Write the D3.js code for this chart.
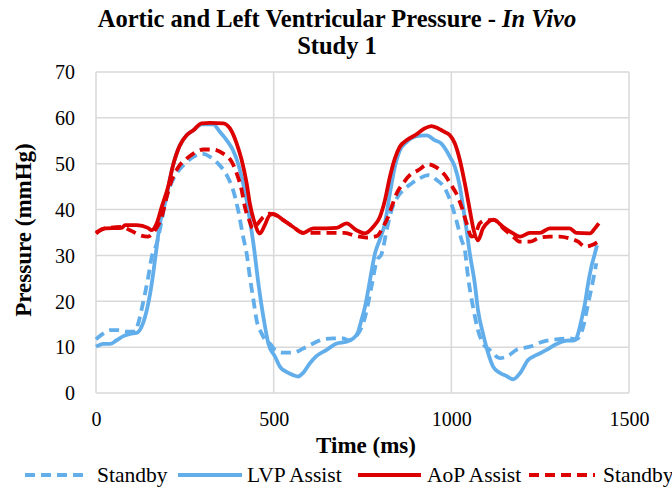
<!DOCTYPE html>
<html>
<head>
<meta charset="utf-8">
<script src="https://cdn.jsdelivr.net/npm/d3@7"></script>
<style>
  body { margin: 0; background: #fff; }
  text { font-family: "Liberation Serif", "Times New Roman", serif; fill: #000; }
</style>
</head>
<body>
<script>
var width = 672, height = 493;
var margin = {left: 96, right: 43, top: 72, bottom: 100};

// time (ms) / pressure (mmHg)
var aopAssistT = [0, 25, 72, 82, 115, 146, 157, 171, 185, 203, 217, 236, 255, 274, 297, 321, 358, 377, 396, 410, 424, 433, 447, 461, 475, 489, 499, 527, 555, 583, 611, 649, 677, 705, 733, 757, 780, 799, 813, 827, 841, 855, 874, 902, 925, 944, 963, 982, 996, 1010, 1024, 1038, 1052, 1063, 1075, 1089, 1104, 1118, 1146, 1174, 1193, 1221, 1249, 1277, 1305, 1333, 1352, 1390, 1404, 1415];
var aopAssistP = [34.8, 35.9, 36, 36.6, 36.6, 36, 35.5, 37, 40.6, 45, 49.7, 54, 56.2, 57.3, 58.8, 58.9, 58.8, 57.7, 54.4, 50.8, 45.7, 41.3, 37, 34.8, 36.6, 38.8, 39, 37.7, 36.2, 34.9, 35.9, 35.9, 36, 37, 35.5, 34.8, 36.2, 38.4, 42, 47.1, 51.1, 53.7, 55.1, 56.4, 57.7, 58.2, 57.7, 56.9, 56.2, 54.4, 50.8, 45.7, 39.9, 35.5, 33.3, 35.9, 37.3, 37.8, 36.2, 34.8, 34.1, 34.9, 34.9, 35.9, 35.9, 35.9, 34.9, 34.8, 35.9, 37];

var aopStandbyT = [0, 25, 72, 96, 124, 146, 166, 185, 199, 213, 232, 255, 274, 302, 330, 358, 382, 396, 410, 419, 431, 441, 452, 471, 489, 499, 527, 555, 583, 611, 650, 700, 733, 761, 790, 808, 822, 832, 846, 864, 883, 907, 935, 958, 982, 1000, 1014, 1029, 1043, 1057, 1066, 1080, 1099, 1122, 1146, 1174, 1193, 1221, 1249, 1277, 1305, 1333, 1357, 1376, 1394, 1413];
var aopStandbyP = [35, 35.9, 36.2, 35.5, 34.4, 34.1, 35.5, 38.4, 42.8, 46.4, 49.3, 51.1, 52.2, 53.1, 53.1, 52.2, 50.4, 47.9, 44.2, 40.6, 37.7, 35.9, 36.6, 38.4, 39.1, 39, 37.7, 36.2, 34.9, 34.9, 34.9, 34.9, 34.2, 33.9, 34.2, 36.2, 38.4, 40.6, 43.5, 45.7, 47.5, 48.6, 49.9, 49.2, 47.5, 45.3, 43.5, 40.6, 37, 34.1, 34.4, 37, 37.7, 37.7, 35.9, 34.1, 33, 33, 33.9, 34.1, 34.1, 33.7, 33, 31.9, 32.2, 33];

var lvpAssistT = [0, 21, 39, 58, 77, 96, 114, 128, 138, 147, 157, 166, 180, 194, 217, 236, 255, 274, 297, 330, 349, 368, 386, 400, 414, 424, 433, 443, 457, 471, 485, 504, 518, 536, 555, 569, 583, 602, 621, 649, 677, 705, 724, 738, 747, 757, 766, 776, 785, 799, 813, 827, 841, 855, 874, 902, 930, 954, 972, 986, 996, 1010, 1024, 1033, 1043, 1052, 1066, 1075, 1089, 1104, 1118, 1136, 1155, 1174, 1193, 1216, 1240, 1268, 1296, 1324, 1347, 1357, 1366, 1376, 1385, 1394, 1404, 1410];
var lvpAssistP = [10.1, 10.7, 10.7, 11.5, 12.4, 12.9, 13.1, 14.4, 16.6, 19.5, 23.9, 29, 37, 41.3, 49.7, 54, 56.2, 57.3, 58.6, 58.6, 56.9, 55.1, 52.9, 50, 45.7, 42, 37.7, 32.6, 23.9, 16.6, 10.8, 7.9, 5.7, 4.6, 3.9, 3.6, 4.4, 6.5, 8.1, 9.4, 10.8, 11.2, 11.9, 13.4, 15.9, 18.8, 22.4, 26.8, 30.4, 33.5, 37, 43.5, 49.3, 52.9, 54.7, 56, 56.2, 55.1, 54.4, 52.9, 51.5, 49.3, 45, 40.6, 35.5, 30.4, 23.9, 18.1, 13, 8.6, 5.7, 4.4, 3.7, 3, 4.3, 7.2, 8.3, 9.4, 10.7, 11.4, 11.5, 13, 15.9, 19.5, 23.9, 27.5, 30.4, 32.2];

var lvpStandbyT = [0, 21, 39, 63, 86, 110, 119, 128, 138, 147, 157, 171, 185, 194, 208, 227, 250, 274, 297, 321, 344, 368, 386, 400, 414, 424, 433, 443, 452, 466, 480, 489, 504, 527, 555, 583, 611, 639, 667, 696, 710, 738, 757, 776, 790, 804, 818, 832, 846, 864, 888, 911, 935, 958, 982, 1000, 1014, 1029, 1038, 1047, 1061, 1075, 1089, 1108, 1136, 1160, 1183, 1221, 1258, 1296, 1333, 1352, 1371, 1385, 1399, 1408];
var lvpStandbyP = [11.7, 13, 13.7, 13.7, 13.4, 13.4, 15.2, 18.1, 21.7, 25.3, 29.7, 32.6, 37.7, 41.3, 45, 47.9, 50, 51.5, 52.2, 51.5, 50, 47.5, 44.2, 39.9, 34.1, 30.4, 25.3, 20.3, 15.9, 13, 11.2, 10.8, 9.4, 8.8, 8.8, 9.7, 10.8, 11.7, 11.9, 11.9, 11.5, 13, 16.5, 23.5, 28.8, 30.4, 35.5, 39.9, 42.4, 44.2, 45.7, 46.8, 47.5, 46.5, 44.6, 41.3, 37.7, 33.3, 31.2, 25.3, 18.8, 13.7, 10.8, 9.4, 7.6, 8.1, 9.4, 10.1, 11.2, 11.7, 11.9, 11.7, 14.4, 19.5, 24.6, 28.3];

var xTicks = [0, 500, 1000, 1500];
var yTicks = [0, 10, 20, 30, 40, 50, 60, 70];

var blue = "#62aeeb", red = "#dc0000";

var svg = d3.select("body").append("svg")
    .attr("width", width)
    .attr("height", height);

var x = d3.scaleLinear().domain([0, 1500]).range([margin.left, width - margin.right]);
var y = d3.scaleLinear().domain([0, 70]).range([393, margin.top]);

// grid
var grid = svg.append("g");
grid.selectAll(".gy").data(yTicks).enter().append("line")
    .attr("x1", x(0)).attr("x2", x(1500))
    .attr("y1", function(d) { return y(d); }).attr("y2", function(d) { return y(d); })
    .attr("stroke", "#d9d9d9").attr("stroke-width", 1.5);
grid.selectAll(".gx").data(xTicks).enter().append("line")
    .attr("x1", function(d) { return x(d); }).attr("x2", function(d) { return x(d); })
    .attr("y1", y(0)).attr("y2", y(70))
    .attr("stroke", "#d9d9d9").attr("stroke-width", 1.5);

// axes (labels only)
var xAxis = svg.append("g")
    .attr("transform", "translate(0," + (y(0) + 19) + ")")
    .call(d3.axisBottom(x).tickValues(xTicks).tickSize(0).tickFormat(d3.format("d")));
var yAxis = svg.append("g")
    .attr("transform", "translate(" + (x(0) - 21) + ",0)")
    .call(d3.axisLeft(y).tickValues(yTicks).tickSize(0));
[xAxis, yAxis].forEach(function(a) {
    a.select(".domain").remove();
    a.selectAll("text").style("font-family", "Liberation Serif").style("font-size", "20px").attr("fill", "#000");
});
xAxis.selectAll("text").attr("dy", "0.71em").attr("y", 0);
yAxis.selectAll("text").attr("x", 0).attr("dy", "0.34em");

function series(ts, ps) {
    return ts.map(function(t, i) { return [t, ps[i]]; });
}
var line = d3.line()
    .x(function(d) { return x(d[0]); })
    .y(function(d) { return y(d[1]); })
    .curve(d3.curveMonotoneX);

var lines = [
    {data: series(lvpStandbyT, lvpStandbyP), color: blue, dash: "10,6"},
    {data: series(lvpAssistT, lvpAssistP), color: blue, dash: null},
    {data: series(aopStandbyT, aopStandbyP), color: red, dash: "10,6"},
    {data: series(aopAssistT, aopAssistP), color: red, dash: null}
];
lines.forEach(function(l) {
    svg.append("path")
        .attr("d", line(l.data))
        .attr("fill", "none")
        .attr("stroke", l.color)
        .attr("stroke-width", 3.8)
        .attr("stroke-linejoin", "round")
        .attr("stroke-dasharray", l.dash);
});

// titles
svg.append("text").attr("x", 337).attr("y", 27).attr("text-anchor", "middle")
    .style("font-size", "24.5px").style("font-weight", "bold")
    .text("Aortic and Left Ventricular Pressure - ")
    .append("tspan").style("font-style", "italic").text("In Vivo");
svg.append("text").attr("x", 337).attr("y", 54).attr("text-anchor", "middle")
    .style("font-size", "24.5px").style("font-weight", "bold").text("Study 1");
svg.append("text").attr("x", 366).attr("y", 453).attr("text-anchor", "middle")
    .style("font-size", "23px").style("font-weight", "bold").text("Time (ms)");
svg.append("text").attr("transform", "translate(31,230) rotate(-90)").attr("text-anchor", "middle")
    .style("font-size", "23px").style("font-weight", "bold").text("Pressure (mmHg)");

// legend
var legend = [
    {name: "Standby", color: blue, dash: "10,6", x1: 25, x2: 89, tx: 97},
    {name: "LVP Assist", color: blue, dash: null, x1: 178, x2: 242, tx: 247},
    {name: "AoP Assist", color: red, dash: null, x1: 358, x2: 421, tx: 427},
    {name: "Standby", color: red, dash: "10,6", x1: 529, x2: 595, tx: 603}
];
var lg = svg.append("g").selectAll("g").data(legend).enter().append("g");
lg.append("line")
    .attr("x1", function(d) { return d.x1; }).attr("x2", function(d) { return d.x2; })
    .attr("y1", 475).attr("y2", 475)
    .attr("stroke", function(d) { return d.color; })
    .attr("stroke-width", 3.8)
    .attr("stroke-dasharray", function(d) { return d.dash; });
lg.append("text")
    .attr("x", function(d) { return d.tx; }).attr("y", 482)
    .style("font-size", "21.5px")
    .text(function(d) { return d.name; });
</script>
</body>
</html>
